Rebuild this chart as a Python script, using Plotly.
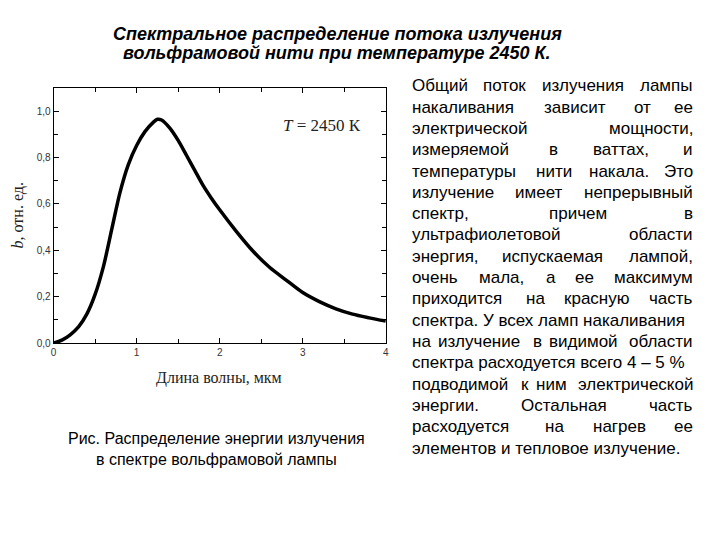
import plotly.graph_objects as go

# ---- data ----
wavelength = [0, 0.1, 0.2, 0.3, 0.4, 0.5, 0.6, 0.7, 0.8, 0.9, 1.0, 1.1, 1.2, 1.25, 1.3,
              1.4, 1.5, 1.6, 1.7, 1.8, 1.9, 2.0, 2.2, 2.4, 2.6, 2.8, 3.0, 3.2, 3.4,
              3.6, 3.8, 4.0]
b_rel = [0, 0.013, 0.036, 0.07, 0.125, 0.21, 0.33, 0.49, 0.65, 0.77, 0.852, 0.912, 0.952,
         0.965, 0.962, 0.927, 0.874, 0.81, 0.745, 0.68, 0.625, 0.575, 0.482, 0.397, 0.327,
         0.272, 0.218, 0.179, 0.148, 0.125, 0.109, 0.095]
x_ticks = [0, 1, 2, 3, 4]
y_ticks = [0.0, 0.2, 0.4, 0.6, 0.8, 1.0]

title_lines = ["Спектральное распределение потока излучения",
               "вольфрамовой нити при температуре 2450 К."]
caption_lines = ["Рис. Распределение энергии излучения",
                 "в спектре вольфрамовой лампы"]
NB = "\u00a0"
paragraph_lines = [
    "Общий поток излучения лампы",
    "накаливания зависит от ее",
    "электрической мощности,",
    "измеряемой в ваттах, и",
    "температуры нити накала. Это",
    "излучение имеет непрерывный",
    "спектр, причем в",
    "ультрафиолетовой области",
    "энергия, испускаемая лампой,",
    "очень мала, а ее максимум",
    "приходится на красную часть",
    "спектра. У всех ламп накаливания",
    "на излучение в видимой области",
    "спектра расходуется всего 4" + NB + "–" + NB + "5" + NB + "%",
    "подводимой к ним электрической",
    "энергии. Остальная часть",
    "расходуется на нагрев ее",
    "элементов и тепловое излучение.",
]

W, H = 720, 540

def px(x):
    return x / W

def py(y):
    return 1 - y / H

fig = go.Figure()
fig.add_trace(go.Scatter(x=wavelength, y=b_rel, mode="lines",
                         line=dict(color="black", width=3.5, shape="spline", smoothing=0.8),
                         hoverinfo="skip", showlegend=False))

axis_common = dict(showline=True, linecolor="black", linewidth=1, mirror="ticks",
                   ticks="inside", ticklen=5, tickcolor="black", showgrid=False, zeroline=False,
                   tickfont=dict(family="Liberation Sans", size=10, color="#333"))

fig.update_layout(
    width=W, height=H, margin=dict(l=0, r=0, t=0, b=0),
    paper_bgcolor="white", plot_bgcolor="white", separators=", ",
    xaxis=dict(domain=[px(51), px(386)], range=[0, 4], tickvals=x_ticks,
               minor=dict(dtick=0.5, ticks="inside", ticklen=4, tickcolor="black"),
               **axis_common),
    yaxis=dict(domain=[py(347), py(89)], range=[0, 1.1], tickvals=y_ticks, tickformat=".1f",
               minor=dict(dtick=0.1, ticks="inside", ticklen=4, tickcolor="black"),
               **axis_common),
)

ann = []
def add(text, x, y, size, family="Liberation Sans", xanchor="center", color="black", angle=0):
    ann.append(dict(text=text, x=px(x), y=py(y), xref="paper", yref="paper",
                    xanchor=xanchor, yanchor="middle", showarrow=False, textangle=angle,
                    font=dict(family=family, size=size, color=color)))

# title
add("<b><i>" + title_lines[0] + "</i></b>", 337, 34, 18)
add("<b><i>" + title_lines[1] + "</i></b>", 337, 54, 18)

# axis titles and label inside plot
add("Длина волны, мкм", 218, 382, 16, family="Liberation Serif", color="#222")
add("<i>b</i>, отн. ед.", 15, 218, 16, family="Liberation Serif", color="#222", angle=-90)
add("<i>T</i> = 2450 К", 322, 127, 17, family="Liberation Serif", color="#222")

# caption
add(caption_lines[0], 215, 443, 16)
add(caption_lines[1], 215, 465, 16)

# justified paragraph (approximate advance widths, 1/1000 em)
CW = {' ': 278, NB: 278, ',': 278, '.': 278, '%': 889, '–': 556, 'а': 556, 'б': 573,
      'в': 531, 'г': 365, 'д': 583, 'е': 556, 'ж': 669, 'з': 458, 'и': 559, 'й': 559,
      'к': 438, 'л': 583, 'м': 688, 'н': 552, 'о': 556, 'п': 542, 'р': 556, 'с': 500,
      'т': 458, 'у': 500, 'ф': 823, 'х': 500, 'ц': 573, 'ч': 521, 'ш': 802, 'щ': 823,
      'ъ': 625, 'ы': 719, 'ь': 521, 'э': 510, 'ю': 750, 'я': 542, 'О': 778, 'У': 667,
      'Э': 722}
FS = 17
CORR = 1.07
def tw(s):
    return sum(CW.get(c, 556) for c in s) * FS / 1000 * CORR

L, R = 410, 698
MIN_GAP = 0.278 * FS
y0, dy = 86.7, 21.56
for i, line in enumerate(paragraph_lines):
    y = y0 + i * dy
    words = line.split(" ")
    if i == len(paragraph_lines) - 1 or len(words) == 1:
        add(line, L, y, FS, xanchor="left")
        continue
    widths = [tw(w) for w in words]
    gap = (R - L - sum(widths)) / (len(words) - 1)
    if gap < MIN_GAP:
        add(line, L, y, FS, xanchor="left")
        continue
    x = L
    for j, w in enumerate(words):
        if j == len(words) - 1:
            add(w, R, y, FS, xanchor="right")
        else:
            add(w, x, y, FS, xanchor="left")
        x += widths[j] + gap

fig.update_layout(annotations=ann)
fig.write_html("out.html")
